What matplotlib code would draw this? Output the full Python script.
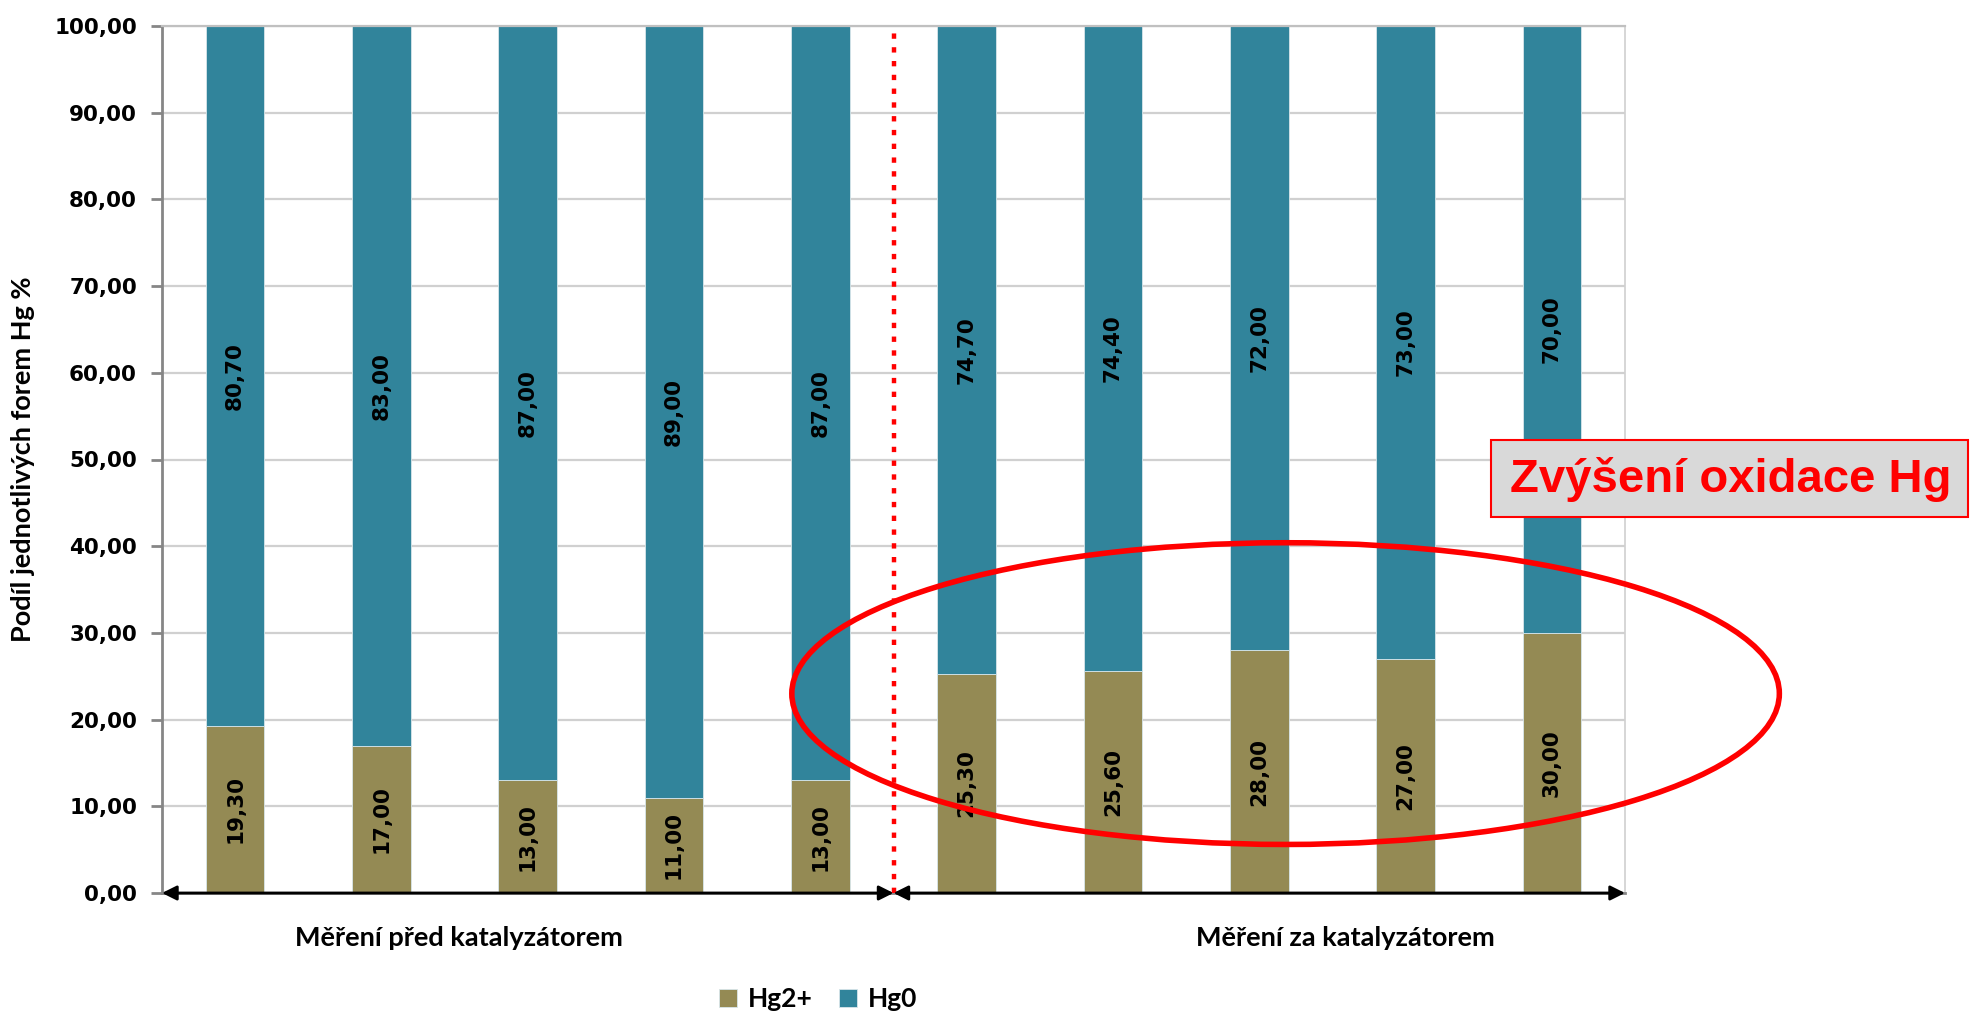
import matplotlib
matplotlib.use("Agg")
import matplotlib.pyplot as plt
from matplotlib.patches import Ellipse, Rectangle

# data
hg2 = [19.3, 17.0, 13.0, 11.0, 13.0, 25.3, 25.6, 28.0, 27.0, 30.0]
hg0 = [80.7, 83.0, 87.0, 89.0, 87.0, 74.7, 74.4, 72.0, 73.0, 70.0]
series_names = ["Hg2+", "Hg0"]
group_labels = ["Měření před katalyzátorem", "Měření za katalyzátorem"]
y_title = "Podíl jednotlivých forem Hg %"
note = "Zvýšení oxidace Hg"

c_hg2 = "#948A54"
c_hg0 = "#31849B"
grey = "#868686"


def fmt(v):
    return f"{v:.2f}".replace(".", ",")


W, H = 1971, 1011
fig = plt.figure(figsize=(W / 100, H / 100), dpi=100)
ax = fig.add_axes([162 / W, 1 - 893 / H, (1625 - 162) / W, (893 - 26) / H])

x = list(range(len(hg2)))
b1 = ax.bar(x, hg2, width=0.4, color=c_hg2, edgecolor="#d8e6ea", linewidth=0.6,
            label=series_names[0], zorder=2)
b2 = ax.bar(x, hg0, width=0.4, bottom=hg2, color=c_hg0, edgecolor="#d8e6ea",
            linewidth=0.6, label=series_names[1], zorder=2)

for i in x:
    ax.text(i, hg2[i] / 2, fmt(hg2[i]), rotation=90, ha="center", va="center",
            fontsize=15.5, fontweight="bold", family="DejaVu Sans", zorder=3)
    ax.text(i, hg2[i] + hg0[i] / 2, fmt(hg0[i]), rotation=90, ha="center",
            va="center", fontsize=15.5, fontweight="bold", family="DejaVu Sans",
            zorder=3)

ax.set_xlim(-0.5, len(x) - 0.5)
ax.set_ylim(0, 100)
ax.set_yticks(range(0, 101, 10))
ax.set_yticklabels([fmt(v) for v in range(0, 101, 10)], fontsize=15.5,
                   fontweight="bold", family="DejaVu Sans")
ax.set_xticks([])
ax.grid(axis="y", color="#d0d0d0", linewidth=1.6, zorder=0)
ax.set_axisbelow(True)
ax.tick_params(axis="y", length=8, width=2, color=grey, pad=10)
ax.spines["left"].set_color(grey)
ax.spines["left"].set_linewidth(2)
ax.spines["top"].set_color("#c0c0c0")
ax.spines["top"].set_linewidth(1.6)
ax.spines["right"].set_color("#d0d0d0")
ax.spines["right"].set_linewidth(1.2)
ax.spines["bottom"].set_color(grey)
ax.spines["bottom"].set_linewidth(2)

# divider and group arrows
split = 4.5
ax.plot([split, split], [0, 100], color="red", linewidth=3.2,
        linestyle=(0, (1.2, 1.9)), zorder=4, clip_on=False)
arrow = dict(arrowstyle="<|-|>", color="black", lw=2, mutation_scale=22,
             shrinkA=0, shrinkB=0)
ax.annotate("", xy=(-0.5, 0), xytext=(split, 0), arrowprops=arrow,
            annotation_clip=False, zorder=5)
ax.annotate("", xy=(split, 0), xytext=(len(x) - 0.5, 0), arrowprops=arrow,
            annotation_clip=False, zorder=5)

ax.text(1.53, -5.2, group_labels[0], ha="center", va="center", fontsize=19.5,
        fontweight="bold", family="Lato")
ax.text(7.59, -5.2, group_labels[1], ha="center", va="center", fontsize=19.5,
        fontweight="bold", family="Lato")

ax.set_ylabel(y_title, fontsize=19.5, fontweight="bold", family="Lato")
ax.yaxis.set_label_coords(-0.087, 0.5)

# highlight ellipse
ax.add_patch(Ellipse((7.18, 23), 6.75, 34.8, fill=False, edgecolor="red",
                     linewidth=4, clip_on=False, zorder=6))

leg = fig.legend(handles=[b1, b2], labels=series_names, loc="center",
                 bbox_to_anchor=(818 / W, 1 - 999 / H), ncol=2, frameon=False,
                 prop={"family": "Lato", "weight": "bold", "size": 19},
                 handlelength=0.7, handleheight=0.7, handletextpad=0.4,
                 columnspacing=1.0)

# note box
fig.add_artist(Rectangle((1491 / W, 1 - 517 / H), (1968 - 1491) / W, 77 / H,
                         transform=fig.transFigure, facecolor="#d9d9d9",
                         edgecolor="red", linewidth=1.5, zorder=10))
fig.text(1510 / W, 1 - 480 / H, note, color="red", fontsize=34,
         fontweight="bold", family="Liberation Sans", va="center", zorder=11)

fig.savefig("out.png", dpi=100, facecolor="white")
